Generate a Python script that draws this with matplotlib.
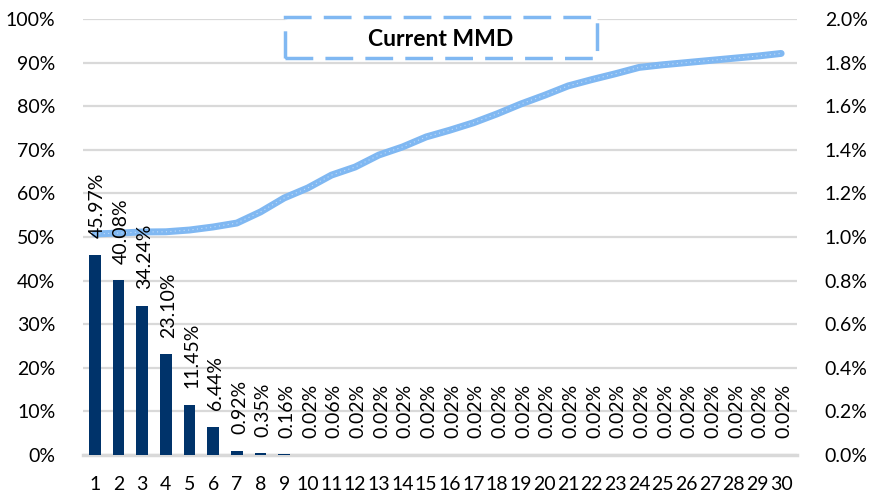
import matplotlib
matplotlib.use("Agg")
import matplotlib.pyplot as plt
from matplotlib.patches import Rectangle

categories = list(range(1, 31))
bar_values = [45.97, 40.08, 34.24, 23.10, 11.45, 6.44, 0.92, 0.35, 0.16, 0.02,
              0.06, 0.02, 0.02, 0.02, 0.02, 0.02, 0.02, 0.02, 0.02, 0.02,
              0.02, 0.02, 0.02, 0.02, 0.02, 0.02, 0.02, 0.02, 0.02, 0.02]
line_values = [1.014, 1.018, 1.023, 1.024, 1.032, 1.046, 1.064, 1.115, 1.179, 1.225,
               1.284, 1.321, 1.376, 1.413, 1.459, 1.49, 1.524, 1.565, 1.61, 1.65,
               1.693, 1.722, 1.749, 1.778, 1.79, 1.80, 1.81, 1.82, 1.83, 1.842]
left_ticks = list(range(0, 101, 10))
right_ticks = [0.0, 0.2, 0.4, 0.6, 0.8, 1.0, 1.2, 1.4, 1.6, 1.8, 2.0]
title_text = "Current MMD"

plt.rcParams['font.family'] = ['Lato', 'DejaVu Sans']
FS = 14

W, H = 871, 494
fig = plt.figure(figsize=(W / 100, H / 100), dpi=100)
ax = fig.add_axes([83 / W, (H - 455) / H, (797 - 83) / W, (455 - 19) / H])
ax2 = ax.twinx()

bar_color = '#00336A'
line_color = '#80B8F2'
grid_color = '#D9D9D9'

ax.bar(categories, bar_values, width=0.5, color=bar_color, zorder=3)
ax.set_ylim(0, 100)
ax.set_xlim(0.5, 30.67)
ax.set_yticks(left_ticks)
ax.set_yticklabels([f"{t}%" for t in left_ticks], fontsize=FS)
ax.set_xticks(categories)
ax.set_xticklabels([str(c) for c in categories], fontsize=FS)
ax.grid(axis='y', color=grid_color, linewidth=1.6, zorder=0)
ax.set_axisbelow(True)
for s in ['top', 'left', 'right']:
    ax.spines[s].set_visible(False)
ax.spines['bottom'].set_color(grid_color)
ax.spines['bottom'].set_linewidth(2.5)
ax.tick_params(axis='both', length=0, colors='black')
ax.tick_params(axis='x', pad=15)
ax.tick_params(axis='y', pad=20)

ax2.plot(categories, line_values, color=line_color, linewidth=5,
         solid_capstyle='round', solid_joinstyle='round', zorder=4)
ax2.plot(categories, line_values, color='white', linewidth=0.8, alpha=0.5,
         linestyle=(0, (1, 3)), zorder=5)
ax2.set_ylim(0, 2.0)
ax2.set_yticks(right_ticks)
ax2.set_yticklabels([f"{t:.1f}%" for t in right_ticks], fontsize=FS)
for s in ['top', 'left', 'right', 'bottom']:
    ax2.spines[s].set_visible(False)
ax2.tick_params(axis='y', length=0, pad=20)

# Data labels drawn on top
for c, v in zip(categories, bar_values):
    ax2.annotate(f"{v:.2f}%", xy=(c, v / 50.0), xytext=(2, 12),
                 textcoords='offset points', rotation=90,
                 ha='center', va='bottom', fontsize=FS, color='black', zorder=6)

# Title box
rect = Rectangle((285 / W, (H - 58) / H), (597 - 285) / W, (58 - 17) / H,
                 transform=fig.transFigure, fill=True, facecolor='white',
                 edgecolor=line_color, linewidth=2.5, linestyle=(0, (8, 3.5)),
                 zorder=10)
fig.patches.append(rect)
fig.text(441 / W, (H - 39) / H, title_text, ha='center', va='center',
         fontsize=16.5, fontweight='bold', color='black', zorder=11)

fig.savefig("out.png", dpi=100)
